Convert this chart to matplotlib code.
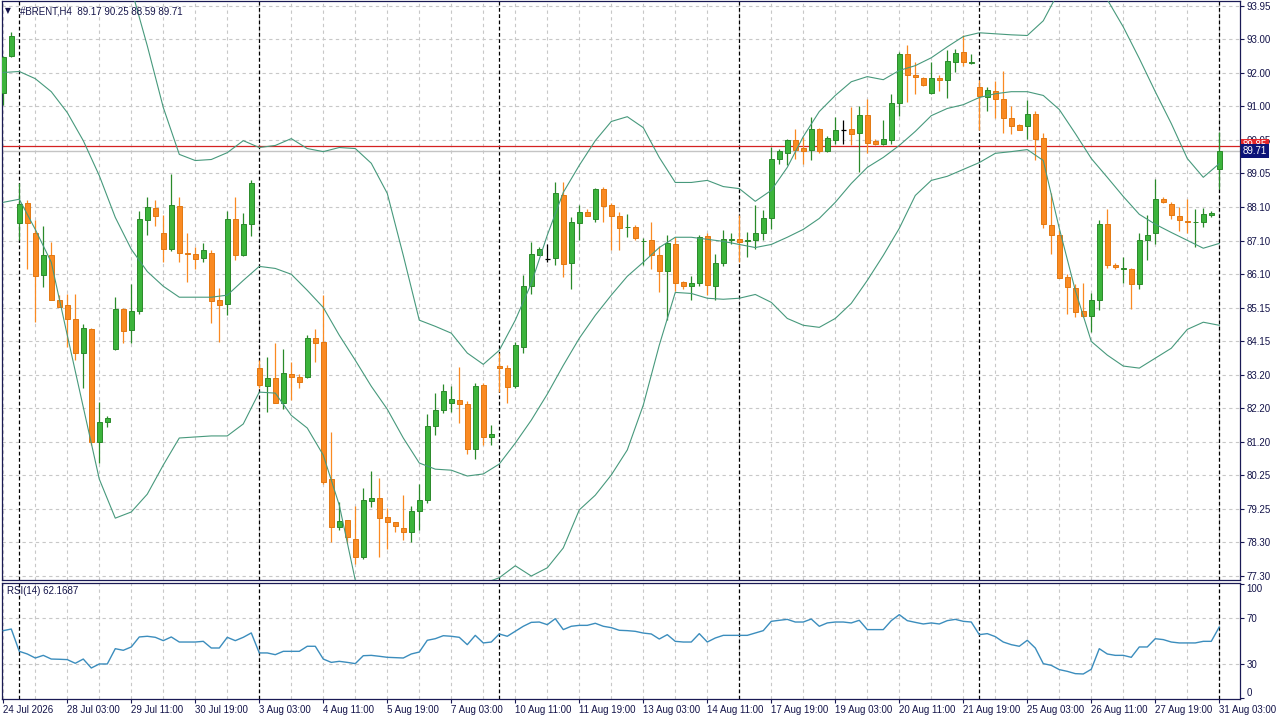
import matplotlib
matplotlib.use('Agg')
import matplotlib.pyplot as plt
import matplotlib.transforms as mtransforms
import numpy as np

plt.rcParams['font.family'] = ['Liberation Sans', 'DejaVu Sans']

# ---- OHLC of the H4 bars from left to right ----
opens = [91.41, 92.47, 87.60, 88.19, 87.32, 86.08, 86.68, 85.35, 85.20, 84.79,
         83.82, 84.50, 81.20, 81.80, 83.92, 85.11, 84.47, 85.04, 87.70, 88.05,
         87.30, 86.84, 88.10, 86.72, 86.71, 86.59, 86.74, 85.35, 85.25, 87.73,
         86.66, 87.59, 83.36, 82.85, 83.07, 82.36, 83.21, 83.10, 83.10, 84.26,
         84.12, 80.12, 78.74, 78.93, 78.38, 77.87, 79.50, 79.57, 79.01, 78.87,
         78.69, 78.58, 79.20, 79.52, 81.68, 82.14, 82.34, 82.45, 82.31, 81.01,
         82.89, 81.35, 83.43, 83.36, 82.85, 83.99, 85.76, 86.68, 86.57, 86.59,
         88.43, 86.45, 87.60, 87.94, 87.71, 88.61, 88.14, 87.82, 87.48, 87.49,
         87.07, 87.10, 86.68, 86.20, 87.00, 85.87, 85.77, 85.85, 87.24, 85.77,
         86.45, 87.12, 87.15, 87.09, 87.10, 87.32, 87.76, 89.48, 89.65, 90.04,
         89.79, 89.74, 90.36, 89.70, 90.03, 90.31, 90.34, 90.24, 90.76, 90.01,
         89.92, 90.03, 91.11, 92.54, 91.94, 91.84, 91.40, 91.84, 91.78, 92.32,
         92.59, 92.29, 91.57, 91.28, 91.45, 91.23, 90.68, 90.47, 90.45, 90.79,
         90.09, 87.56, 87.25, 86.03, 85.71, 85.03, 84.89, 85.37, 87.59, 86.39,
         86.27, 86.27, 85.84, 87.12, 87.30, 88.31, 88.15, 87.81, 87.66, 87.63,
         87.63, 87.85, 89.17]
highs = [92.49, 93.19, 88.76, 88.27, 87.68, 87.51, 87.05, 85.50, 85.53, 85.53,
         84.65, 84.53, 82.37, 81.97, 85.45, 85.13, 85.82, 87.95, 88.36, 88.29,
         87.85, 89.04, 88.36, 87.30, 86.90, 87.02, 86.81, 85.72, 87.97, 88.38,
         87.90, 88.85, 83.60, 83.70, 84.11, 83.94, 83.55, 83.19, 84.33, 84.50,
         85.50, 81.51, 79.47, 78.95, 79.34, 79.86, 80.37, 80.15, 79.28, 78.88,
         79.68, 79.34, 79.98, 82.02, 82.63, 82.92, 82.84, 83.39, 82.41, 82.95,
         82.95, 81.71, 83.80, 83.45, 84.13, 86.10, 87.05, 86.90, 87.00, 88.80,
         88.80, 87.78, 88.12, 88.02, 88.62, 88.65, 88.19, 87.94, 87.86, 87.54,
         87.16, 87.65, 86.94, 87.26, 87.20, 85.91, 86.05, 87.26, 87.31, 86.71,
         87.41, 87.30, 87.83, 87.34, 88.12, 87.99, 89.82, 89.78, 90.06, 90.36,
         90.11, 90.69, 90.38, 90.16, 90.69, 90.62, 90.99, 91.03, 91.23, 90.06,
         90.60, 91.36, 92.59, 92.81, 92.30, 91.88, 92.30, 91.94, 92.66, 92.69,
         93.10, 92.54, 91.78, 91.57, 91.76, 92.03, 91.01, 90.50, 91.21, 90.87,
         90.23, 88.49, 87.39, 86.13, 85.84, 85.85, 85.55, 87.70, 88.02, 86.44,
         86.61, 86.30, 87.30, 87.83, 88.90, 88.36, 88.22, 88.07, 88.31, 88.02,
         88.05, 87.95, 90.25]
lows = [91.06, 92.44, 87.10, 86.25, 84.72, 85.74, 85.35, 85.14, 83.99, 83.62,
        82.78, 81.12, 80.59, 81.66, 83.89, 84.11, 84.09, 84.96, 87.25, 87.53,
        86.47, 86.79, 86.47, 85.88, 86.27, 86.47, 84.69, 84.13, 84.91, 86.54,
        86.64, 87.24, 82.78, 82.10, 82.34, 82.19, 82.43, 82.78, 83.07, 83.55,
        80.00, 78.30, 78.64, 78.26, 77.64, 77.79, 79.31, 77.87, 78.08, 78.59,
        78.35, 78.30, 78.64, 79.42, 81.41, 82.06, 82.10, 81.76, 80.86, 80.71,
        81.12, 81.12, 82.68, 82.36, 82.78, 83.80, 85.52, 86.66, 86.47, 86.37,
        86.03, 85.69, 87.10, 87.80, 87.65, 87.65, 86.81, 86.83, 87.20, 87.10,
        86.37, 86.27, 85.59, 84.77, 85.62, 85.69, 85.35, 85.77, 85.50, 85.37,
        86.34, 86.98, 86.47, 86.61, 86.86, 87.10, 87.44, 89.33, 89.31, 89.48,
        89.33, 89.45, 89.64, 89.67, 89.92, 89.92, 89.87, 89.09, 89.64, 89.87,
        89.87, 89.92, 90.74, 91.13, 91.36, 91.62, 91.38, 91.47, 91.26, 92.01,
        92.18, 92.25, 90.31, 90.89, 90.66, 90.23, 90.21, 90.31, 90.06, 89.45,
        87.47, 86.71, 86.00, 84.96, 84.86, 84.86, 84.43, 85.06, 86.30, 86.27,
        85.85, 85.11, 85.69, 86.52, 87.00, 88.19, 87.71, 87.37, 87.30, 86.90,
        87.49, 87.78, 88.59]
closes = [92.46, 93.08, 88.15, 87.60, 86.06, 86.68, 85.37, 85.15, 84.79, 83.82,
          84.53, 81.20, 81.81, 81.92, 85.11, 84.45, 85.04, 87.73, 88.07, 87.81,
          86.86, 88.14, 86.74, 86.69, 86.57, 86.83, 85.33, 85.22, 87.73, 86.66,
          87.59, 88.78, 82.87, 83.07, 82.36, 83.24, 83.11, 82.97, 84.26, 84.09,
          80.05, 78.74, 78.91, 78.45, 77.85, 79.52, 79.57, 79.00, 78.87, 78.77,
          78.59, 79.20, 79.52, 81.68, 82.14, 82.70, 82.48, 82.31, 81.01, 82.85,
          81.35, 81.46, 83.36, 82.82, 84.04, 85.76, 86.71, 86.86, 86.57, 88.48,
          86.42, 87.65, 87.92, 87.82, 88.61, 88.10, 87.81, 87.47, 87.49, 87.18,
          87.08, 86.68, 86.20, 87.03, 85.85, 85.77, 85.85, 87.20, 85.79, 86.45,
          87.15, 87.13, 87.05, 87.10, 87.32, 87.76, 89.48, 89.72, 90.03, 89.74,
          89.72, 90.36, 89.72, 90.09, 90.31, 90.31, 90.21, 90.76, 89.95, 89.92,
          90.06, 91.11, 92.54, 91.93, 91.86, 91.64, 91.84, 91.78, 92.33, 92.57,
          92.30, 92.31, 91.31, 91.49, 91.23, 90.68, 90.45, 90.33, 90.79, 90.06,
          87.57, 87.25, 86.01, 85.74, 85.01, 84.88, 85.37, 87.59, 86.37, 86.32,
          86.28, 85.84, 87.10, 87.27, 88.31, 88.22, 87.85, 87.70, 87.63, 87.65,
          87.86, 87.91, 89.71]

# ---- Bollinger bands, read every second bar ----
bb_step = 2
bb_upper = [95.79, 95.76, 96.22, 96.42, 97.33, 97.79, 97.85, 96.55, 94.45, 92.78,
            90.98, 89.61, 89.43, 89.46, 89.66, 90.01, 89.81, 89.87, 90.07, 89.78,
            89.69, 89.81, 89.78, 89.35, 88.47, 86.66, 84.77, 84.59, 84.39, 83.81,
            83.48, 83.89, 84.77, 85.84, 87.25, 88.50, 89.29, 90.01, 90.57, 90.71,
            90.39, 89.52, 88.79, 88.79, 88.85, 88.67, 88.61, 88.24, 88.56, 89.23,
            90.13, 90.86, 91.33, 91.73, 91.88, 91.79, 92.06, 92.20, 92.43, 92.75,
            93.05, 93.16, 93.13, 93.10, 93.08, 93.51, 94.39, 94.80, 94.83, 94.13,
            93.33, 92.41, 91.44, 90.51, 89.49, 88.94, 89.34]
bb_middle = [92.00, 92.03, 91.82, 91.44, 90.83, 90.01, 88.99, 87.77, 86.84, 86.19,
             85.76, 85.44, 85.44, 85.44, 85.50, 85.93, 86.34, 86.28, 86.11, 85.64,
             85.14, 84.33, 83.60, 82.84, 82.17, 81.33, 80.60, 80.42, 80.39, 80.22,
             80.28, 80.57, 81.18, 81.85, 82.61, 83.45, 84.24, 84.91, 85.50, 86.05,
             86.46, 86.89, 87.19, 87.19, 87.13, 87.07, 86.98, 86.89, 86.98, 87.19,
             87.42, 87.74, 88.21, 88.76, 89.23, 89.52, 89.87, 90.28, 90.74, 90.95,
             91.06, 91.27, 91.38, 91.44, 91.44, 91.33, 90.92, 90.22, 89.49, 88.94,
             88.38, 87.86, 87.57, 87.33, 87.10, 86.87, 87.01]
bb_lower = [88.21, 88.30, 87.42, 86.46, 84.33, 82.23, 80.13, 78.99, 79.17, 79.69,
            80.54, 81.33, 81.36, 81.39, 81.39, 81.74, 82.67, 82.64, 81.99, 81.62,
            80.83, 79.37, 77.18, 76.33, 75.87, 75.99, 76.43, 76.25, 76.39, 76.63,
            77.08, 77.25, 77.60, 77.30, 77.54, 78.12, 79.23, 79.66, 80.25, 80.98,
            82.29, 84.04, 85.58, 85.55, 85.41, 85.38, 85.41, 85.52, 85.29, 84.82,
            84.62, 84.56, 84.82, 85.26, 85.93, 86.66, 87.45, 88.41, 88.85, 88.97,
            89.17, 89.37, 89.64, 89.69, 89.75, 89.43, 87.45, 85.64, 84.15, 83.75,
            83.43, 83.37, 83.66, 83.95, 84.50, 84.71, 84.62]

# ---- RSI(14), one value per bar ----
rsi = [59.0, 60.4, 41.0, 38.7, 35.2, 37.5, 34.3, 34.1, 33.8, 30.6,
       34.3, 26.5, 30.0, 30.0, 43.3, 41.9, 44.8, 53.5, 54.1, 53.2,
       50.3, 53.5, 49.1, 49.1, 49.1, 49.7, 43.9, 43.9, 53.2, 50.3,
       53.2, 57.0, 39.6, 39.6, 38.1, 41.0, 41.0, 41.0, 45.4, 45.4,
       34.3, 31.4, 32.3, 31.4, 30.3, 37.2, 37.5, 36.7, 35.8, 35.5,
       35.2, 38.7, 40.4, 50.6, 52.0, 54.6, 54.1, 53.2, 46.8, 54.9,
       48.3, 49.1, 56.1, 54.1, 58.4, 62.8, 66.2, 66.5, 64.2, 69.4,
       59.9, 62.8, 63.6, 63.6, 65.4, 62.8, 61.6, 59.3, 59.0, 58.4,
       56.9, 56.1, 51.7, 55.5, 49.7, 49.1, 49.1, 56.4, 49.1, 52.6,
       54.9, 54.9, 54.9, 54.9, 57.0, 59.0, 67.1, 68.0, 68.8, 66.5,
       66.5, 69.1, 62.8, 65.7, 66.5, 66.5, 65.7, 68.0, 59.9, 59.9,
       59.9, 67.7, 72.9, 67.7, 66.2, 64.8, 65.7, 64.8, 67.7, 68.8,
       67.1, 66.5, 55.5, 56.4, 53.8, 49.1, 46.8, 45.4, 50.6, 43.9,
       30.3, 28.8, 25.1, 23.6, 21.6, 21.3, 25.4, 43.3, 38.7, 37.5,
       37.5, 35.8, 44.8, 44.8, 52.0, 51.2, 49.1, 48.3, 48.3, 48.3,
       49.7, 49.7, 62.2]

time_labels = ['24 Jul 2026', '28 Jul 03:00', '29 Jul 11:00', '30 Jul 19:00',
               '3 Aug 03:00', '4 Aug 11:00', '5 Aug 19:00', '7 Aug 03:00',
               '10 Aug 11:00', '11 Aug 19:00', '13 Aug 03:00', '14 Aug 11:00',
               '17 Aug 19:00', '19 Aug 03:00', '20 Aug 11:00', '21 Aug 19:00',
               '25 Aug 03:00', '26 Aug 11:00', '27 Aug 19:00', '31 Aug 03:00']
week_starts = [2, 32, 62, 92, 122, 152]
price_labels = ['93.95', '93.00', '92.00', '91.00', '90.05', '89.05', '88.10',
                '87.10', '86.10', '85.15', '84.15', '83.20', '82.20', '81.20',
                '80.25', '79.25', '78.30', '77.30']
bid, ask = 89.71, 89.85

# ---- style ----
grid_c = '#c8c8c8'
frame_c = '#1a1a55'
text_c = '#14144a'
bull_fill, bull_edge = '#3cb43c', '#2a8a2a'
bear_fill, bear_edge = '#fa8a22', '#e27812'
band_c = '#47997c'
rsi_c = '#3b8dbd'

W, H = 1280, 720
fig = plt.figure(figsize=(12.8, 7.2), dpi=100)
fig.patch.set_facecolor('white')

def px_rect(x0, y0, x1, y1):
    return [x0 / W, 1 - y1 / H, (x1 - x0) / W, (y1 - y0) / H]

ax = fig.add_axes(px_rect(2, 0.5, 1240, 579.7))
ax2 = fig.add_axes(px_rect(2, 582.7, 1240, 698.7))

n = len(closes)
idx = np.arange(n)
xlim = (-0.16, 154.59)

o = np.array(opens); c = np.array(closes)
h = np.array(highs); l = np.array(lows)

# grid
grid_vals = np.linspace(93.95, 77.30, len(price_labels))
for axx in (ax, ax2):
    axx.set_xlim(*xlim)
    for k in range(0, n, 4):
        axx.axvline(k, color=grid_c, lw=0.8, ls=(0, (3, 3)), zorder=0)
    for k in week_starts:
        axx.axvline(k, color='black', lw=0.9, ls=(0, (3, 2)), zorder=1)
    for s in axx.spines.values():
        s.set_color(frame_c)
        s.set_linewidth(0.9)
for v in grid_vals:
    ax.axhline(v, color=grid_c, lw=0.8, ls=(0, (3, 3)), zorder=0)

ax.set_ylim(77.193, 94.102)

# candles
up = c > o
down = c < o
flat = c == o
wick_cols = np.where(up, bull_edge, np.where(down, bear_fill, 'black'))
ax.vlines(idx, l, h, colors=wick_cols, lw=0.9, zorder=3)
bw = 0.62
ax.bar(idx[up], (c - o)[up], bottom=o[up], width=bw, color=bull_fill,
       edgecolor=bull_edge, linewidth=0.7, zorder=4)
ax.bar(idx[down], (o - c)[down], bottom=c[down], width=bw, color=bear_fill,
       edgecolor=bear_edge, linewidth=0.7, zorder=4)
ax.hlines(c[flat], idx[flat] - bw / 2, idx[flat] + bw / 2, colors='black',
          lw=0.9, zorder=4)

# bollinger bands
bb_idx = np.arange(0, n, bb_step)
for band in (bb_upper, bb_middle, bb_lower):
    ax.plot(bb_idx, band, color=band_c, lw=0.8, zorder=5)

# bid / ask lines
ax.axhline(bid, color='#c4c4c4', lw=1.0, zorder=2)
ax.axhline(ask, color='#d42222', lw=0.9, zorder=2)

# price axis
ax.yaxis.tick_right()
ax.set_yticks(grid_vals)
ax.set_yticklabels(price_labels)
ax.set_xticks([])
ax.tick_params(axis='y', direction='out', length=3, width=0.8, color=frame_c,
               labelsize=7, labelcolor=text_c, pad=1.5)

tr = mtransforms.blended_transform_factory(ax.transAxes, ax.transData)
ax.text(1.0025, ask + 0.02, '89.85', transform=tr, fontsize=7, color='white',
        va='center', ha='left', zorder=10, clip_on=False,
        bbox=dict(boxstyle='square,pad=0.2', fc='#e4262a', ec='none'))
ax.text(1.0025, bid, '89.71', transform=tr, fontsize=7, color='white',
        va='center', ha='left', zorder=11, clip_on=False,
        bbox=dict(boxstyle='square,pad=0.22', fc='#0c1478', ec='none'))

# RSI panel
ax2.set_ylim(-0.2, 100.7)
ax2.axhline(70, color=grid_c, lw=0.8, ls=(0, (3, 3)), zorder=0)
ax2.axhline(30, color=grid_c, lw=0.8, ls=(0, (3, 3)), zorder=0)
ax2.plot(idx, rsi, color=rsi_c, lw=1.0, zorder=3)
ax2.yaxis.tick_right()
ax2.set_yticks([0, 30, 70, 100])
ax2.set_yticklabels(['0', '30', '70', '100'])
ax2.tick_params(axis='y', direction='out', length=3, width=0.8, color=frame_c,
                labelsize=7, labelcolor=text_c, pad=1.5)
yl = ax2.get_yticklabels()
yl[0].set_va('bottom')
yl[3].set_va('top')

label_idx = np.arange(0, n, 8)
ax2.set_xticks(label_idx)
ax2.set_xticklabels(time_labels)
ax2.tick_params(axis='x', direction='out', length=3, width=0.8, color=frame_c,
                labelsize=7, labelcolor=text_c, pad=1.5)
for t in ax2.get_xticklabels():
    t.set_ha('left')

# header texts
fig.text(8 / W, 1 - 11 / H, '\u25bc', fontsize=5.5, color=text_c,
         va='center', ha='center', family='DejaVu Sans')
fig.text(20 / W, 1 - 11 / H, '#BRENT,H4  89.17 90.25 88.59 89.71', fontsize=7,
         color=text_c, va='center', ha='left')
fig.text(7 / W, 1 - 591 / H, 'RSI(14) 62.1687', fontsize=7, color=text_c,
         va='center', ha='left')

fig.savefig('out.png', dpi=100, facecolor='white')
